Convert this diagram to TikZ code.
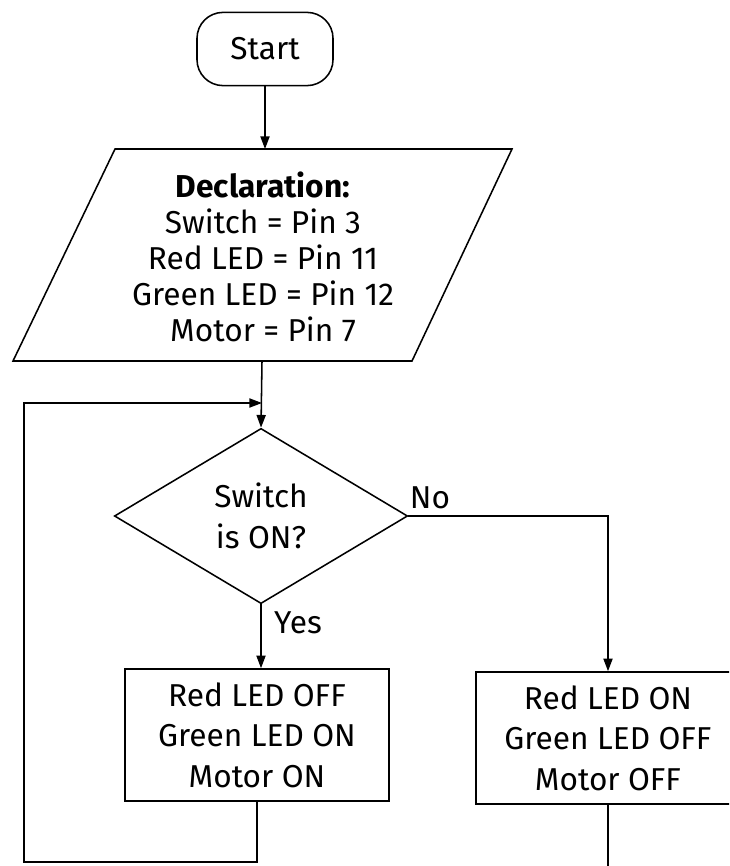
\documentclass[tikz,border=0pt]{standalone}
\usepackage{fontspec}
\setmainfont{Fira Sans}
\usetikzlibrary{shapes.geometric,arrows.meta}

\begin{document}
\begin{tikzpicture}[x=0.025cm,y=-0.025cm,line width=1.1pt,
  >={Triangle[length=9pt,width=6.5pt]},
  txt/.style={align=center,inner sep=0pt,font=\fontsize{22.5}{28.8}\selectfont},
  startbox/.style={draw,rounded corners=0.65cm,minimum width=3.4cm,minimum height=1.83cm,txt},
  ledbox/.style={draw,minimum width=6.6cm,minimum height=3.3cm,txt},
  decision/.style={draw,diamond,minimum width=7.33cm,minimum height=4.38cm,txt}]
  \clip (0,0) rectangle (729,866);
  \node[startbox] (start) at (265,49) {Start};
  % declaration block, parallelogram drawn round the text
  \node[txt,font=\fontsize{22.5}{25.6}\selectfont] (decl) at (263,257) {\textbf{Declaration:}\\Switch = Pin 3\\Red LED = Pin 11\\Green LED = Pin 12\\Motor = Pin 7};
  \draw (115,149) -- (512,149) -- (412,361) -- (13,361) -- cycle;
  \coordinate (declN) at (265,149);
  \coordinate (declS) at (262,361);
  \node[decision] (switch) at (261,516) {Switch\\is ON?};
  \node[ledbox] (ledA) at (257,735) {Red LED OFF\\Green LED ON\\Motor ON};
  \node[ledbox] (ledB) at (608,738) {Red LED ON\\Green LED OFF\\Motor OFF};
  \node[txt] (no) at (430,498) {No};
  \node[txt] (yes) at (298,623) {Yes};
  \coordinate (loopB) at (24,862);
  \coordinate (loopT) at (262,403);
  \coordinate (endB) at (608,870);
  \draw[->] (start) -- (declN);
  \draw[->] (declS) -- (switch.north);
  \draw[->] (switch.south) -- (switch.south |- ledA.north);
  \draw[->] (switch.east) -| (ledB.north);
  \draw[->] (ledA.south) |- (loopB) |- (loopT);
  \draw (ledB.south) -- (endB);
\end{tikzpicture}
\end{document}
